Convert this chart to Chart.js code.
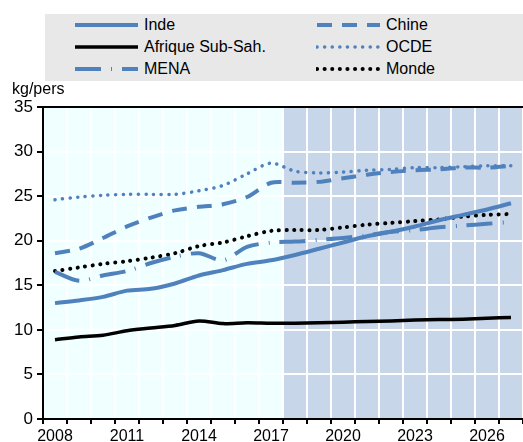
<!DOCTYPE html>
<html>
<head>
<meta charset="utf-8">
<script src="https://cdn.jsdelivr.net/npm/chart.js@4"></script>
<style>
  html, body { margin: 0; padding: 0; background: #fff; }
  #wrap { position: relative; width: 523px; height: 442px; }
  #chart { position: absolute; left: 0; top: 0; }
  #legend {
    position: absolute; left: 45px; top: 14px; width: 478px; height: 67px;
    background: #e8e8e8;
    font-family: "Liberation Sans Narrow", "Arial Narrow", Arial, sans-serif;
    font-size: 16px; color: #000;
  }
  .item { position: absolute; height: 20px; line-height: 20px; white-space: nowrap; }
  .item svg { position: absolute; left: 0; top: 4px; }
  .item span { position: absolute; left: 70px; top: 0; }
  #unit {
    position: absolute; left: 12px; top: 80px;
    font-family: "Liberation Sans Narrow", "Arial Narrow", Arial, sans-serif;
    font-size: 16px;
  }
</style>
</head>
<body>
<div id="wrap">
  <canvas id="chart" width="523" height="442"></canvas>
  <div id="legend"></div>
  <div id="unit">kg/pers</div>
</div>
<script>
// years on the x axis
const years = ['2008', '2009', '2010', '2011', '2012', '2013', '2014', '2015', '2016', '2017',
               '2018', '2019', '2020', '2021', '2022', '2023', '2024', '2025', '2026', '2027'];

// kg per person
const inde    = [13.0, 13.3, 13.7, 14.4, 14.6, 15.2, 16.1, 16.7, 17.4, 17.8, 18.4, 19.1, 19.8, 20.5, 21.0, 21.6, 22.3, 22.9, 23.5, 24.2];
const chine   = [18.6, 19.1, 20.3, 21.6, 22.6, 23.4, 23.8, 24.1, 24.9, 26.5, 26.5, 26.6, 27.0, 27.4, 27.7, 27.9, 28.0, 28.2, 28.2, 28.4];
const afrique = [8.9, 9.2, 9.4, 9.9, 10.2, 10.5, 11.0, 10.7, 10.8, 10.75, 10.75, 10.8, 10.85, 10.95, 11.0, 11.1, 11.15, 11.2, 11.3, 11.4];
const ocde    = [24.6, 24.9, 25.1, 25.2, 25.2, 25.2, 25.6, 26.2, 27.5, 28.7, 27.8, 27.6, 27.7, 27.9, 28.0, 28.2, 28.2, 28.3, 28.4, 28.4];
const mena    = [16.5, 15.5, 16.1, 16.6, 17.5, 18.2, 18.6, 17.8, 19.3, 19.8, 19.9, 20.1, 20.3, 20.6, 21.0, 21.2, 21.5, 21.7, 21.9, 22.1];
const monde   = [16.6, 17.0, 17.4, 17.7, 18.1, 18.6, 19.4, 19.8, 20.5, 21.1, 21.2, 21.2, 21.5, 21.8, 22.0, 22.2, 22.4, 22.7, 22.9, 23.0];

const yTicks = [0, 5, 10, 15, 20, 25, 30, 35];
const projectionStart = '2018';

const blue = '#4f81bd';
const font = '"Liberation Sans Narrow", "Arial Narrow", Arial, sans-serif';

// legend order follows the reference: left column, right column
const series = [
    { label: 'Inde', data: inde, color: blue, width: 4, dash: [] },
    { label: 'Chine', data: chine, color: blue, width: 4, dash: [15, 10] },
    { label: 'Afrique Sub-Sah.', data: afrique, color: '#000000', width: 3.5, dash: [] },
    { label: 'OCDE', data: ocde, color: blue, width: 3.5, dash: [0.1, 7.5], cap: 'round' },
    { label: 'MENA', data: mena, color: blue, width: 4, dash: [26, 10, 1, 10] },
    { label: 'Monde', data: monde, color: '#000000', width: 4, dash: [0.1, 7.5], cap: 'round' }
];

// html legend, two columns of three rows
const legendEl = document.getElementById('legend');
series.forEach((s, i) => {
    const col = i % 2, row = Math.floor(i / 2);
    const div = document.createElement('div');
    div.className = 'item';
    div.style.left = (col === 0 ? 29 : 271) + 'px';
    div.style.top = (1 + row * 22) + 'px';
    const dash = s.dash.length ? s.dash.join(' ') : 'none';
    div.innerHTML = '<svg width="66" height="12"><line x1="1" y1="6" x2="64" y2="6" stroke="' + s.color +
        '" stroke-width="' + s.width + '" stroke-dasharray="' + dash + '" stroke-linecap="' + (s.cap || 'butt') +
        '"/></svg><span>' + s.label + '</span>';
    legendEl.appendChild(div);
});

const backgroundPlugin = {
    id: 'background',
    beforeDraw(chart) {
        const { ctx, chartArea: a, scales: { x } } = chart;
        ctx.save();
        ctx.fillStyle = '#f0ffff';
        ctx.fillRect(a.left, a.top, a.right - a.left, a.bottom - a.top);
        const idx = years.indexOf(projectionStart);
        const start = (x.getPixelForValue(idx - 1) + x.getPixelForValue(idx)) / 2 + 1;
        ctx.fillStyle = '#c8d6e9';
        ctx.fillRect(start, a.top, a.right - start, a.bottom - a.top);
        ctx.restore();
    },
    afterDraw(chart) {
        const { ctx, chartArea: a } = chart;
        ctx.save();
        ctx.strokeStyle = '#000';
        ctx.lineWidth = 2;
        ctx.beginPath();
        ctx.moveTo(a.left, a.top);
        ctx.lineTo(a.right, a.top);
        ctx.stroke();
        ctx.restore();
    }
};

new Chart(document.getElementById('chart'), {
    type: 'line',
    data: {
        labels: years,
        datasets: series.map(s => ({
            label: s.label,
            data: s.data,
            borderColor: s.color,
            borderWidth: s.width,
            borderDash: s.dash,
            borderCapStyle: s.cap || 'butt',
            pointRadius: 0,
            tension: 0.3,
            fill: false
        }))
    },
    options: {
        responsive: false,
        animation: false,
        layout: { padding: { top: 107, left: 0, right: 0, bottom: 0 } },
        plugins: {
            legend: { display: false },
            tooltip: { enabled: false }
        },
        scales: {
            x: {
                offset: true,
                afterFit: (scale) => { scale.height = 23; },
                grid: {
                    offset: true,
                    color: '#ffffff',
                    lineWidth: 2,
                    tickColor: '#000000',
                    tickLength: 5,
                    drawTicks: true
                },
                border: { color: '#000000', width: 2 },
                ticks: {
                    autoSkip: false,
                    maxRotation: 0,
                    padding: 3,
                    color: '#000',
                    font: { family: font, size: 16 },
                    callback: (v, i) => (i % 3 === 0 ? years[i] : '')
                }
            },
            y: {
                min: 0,
                max: 35,
                afterFit: (scale) => { scale.width = 43; },
                afterBuildTicks: (scale) => { scale.ticks = yTicks.map(v => ({ value: v })); },
                grid: {
                    color: '#ffffff',
                    lineWidth: 2,
                    tickColor: '#000000',
                    tickLength: 6
                },
                border: { color: '#000000', width: 2 },
                ticks: {
                    padding: 4,
                    color: '#000',
                    font: { family: font, size: 17 }
                }
            }
        }
    },
    plugins: [backgroundPlugin]
});
</script>
</body>
</html>
